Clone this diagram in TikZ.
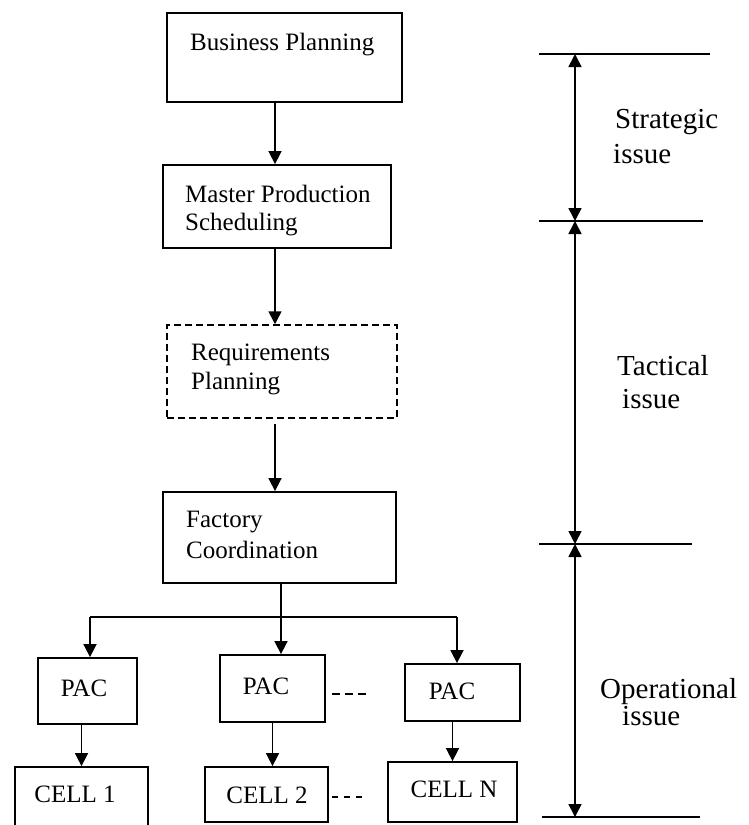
\documentclass[tikz,border=0pt]{standalone}
\usepackage{fontspec}
\setmainfont{Liberation Serif}
\usetikzlibrary{arrows.meta}
\begin{document}
\begin{tikzpicture}[x=1pt,y=-1pt,
  box/.style={draw, line width=1.8pt, rectangle, inner sep=0pt},
  lbl/.style={anchor=base west, inner sep=0pt, font=\fontsize{25}{28}\selectfont},
  clbl/.style={anchor=base, inner sep=0pt, font=\fontsize{25}{28}\selectfont},
  side/.style={anchor=base west, inner sep=0pt, font=\fontsize{29}{32}\selectfont},
  tip/.tip={Triangle[width=13pt,length=13pt]},
  arr/.style={line width=1.6pt, -tip},
  span/.style={line width=1.6pt, tip-tip},
  tick/.style={line width=2.2pt}]
\useasboundingbox (0,0) rectangle (749,825);

% planning hierarchy boxes
\node[box, line width=2.3pt, minimum width=235pt, minimum height=89pt] (bp) at (284.5,57.5) {};
\node[box, minimum width=228pt, minimum height=83pt] (mps) at (277,206.5) {};
\node[box, line width=1.5pt, dash pattern=on 7pt off 4pt, minimum width=230pt, minimum height=93pt] (req) at (282,371.5) {};
\node[box, minimum width=233pt, minimum height=91pt] (fac) at (279.5,537.5) {};

\node[lbl] (bpt) at (190,50) {Business Planning};
\node[lbl] (mpst1) at (185,202) {Master Production};
\node[lbl] (mpst2) at (185,230) {Scheduling};
\node[lbl] (reqt1) at (191,360) {Requirements};
\node[lbl] (reqt2) at (191,389) {Planning};
\node[lbl] (fact1) at (186,527) {Factory};
\node[lbl] (fact2) at (186,558) {Coordination};

% production activity control and cells
\node[box, minimum width=99pt, minimum height=66pt] (pac1) at (87.5,691) {};
\node[box, minimum width=105pt, minimum height=67pt] (pac2) at (272.5,688.5) {};
\node[box, minimum width=115pt, minimum height=57pt] (pac3) at (462.5,692.5) {};
\node[box, minimum width=133pt, minimum height=78pt] (cell1) at (81.5,806) {};
\node[box, minimum width=123pt, minimum height=55pt] (cell2) at (266.5,794.5) {};
\node[box, minimum width=129pt, minimum height=60pt] (celln) at (452.5,792) {};

\node[clbl] (pac1t) at (84,696) {PAC};
\node[clbl] (pac2t) at (266,694) {PAC};
\node[clbl] (pac3t) at (452,699) {PAC};
\node[clbl] (cell1t) at (75,802) {CELL 1};
\node[clbl] (cell2t) at (267,803) {CELL 2};
\node[clbl] (cellnt) at (454,797) {CELL N};

% vertical flow
\coordinate (spine) at (275,0);
\draw[arr] (bp.south -| spine) -- (mps.north -| spine);
\draw[arr] (mps.south -| spine) -- (req.north -| spine);
\draw[arr, shorten <=5pt] (req.south -| spine) -- (fac.north -| spine);

% distribution to the PAC units
\coordinate (busL) at (90,617);
\coordinate (busM) at (281,617);
\coordinate (busR) at (457,617);
\draw[line width=1.6pt] (busL) -- (busR);
\draw[arr] (fac.south -| busM) -- (pac2.north -| busM);
\draw[arr] (busL) -- (busL |- pac1.north);
\draw[arr] (busR) -- (busR |- pac3.north);

\draw[arr] (pac1.south -| cell1.north) -- (cell1.north);
\draw[arr] (pac2.south) -- (pac2.south |- cell2.north);
\draw[arr] (pac3.south -| celln.north) -- (celln.north);

% continuation dashes
\coordinate (dA1) at (332,694);
\coordinate (dA2) at (367,694);
\draw[line width=2.8pt, dash pattern=on 8pt off 5pt] (dA1) -- (dA2);
\coordinate (dB1) at (332,797);
\coordinate (dB2) at (367,797);
\draw[line width=1.4pt, dash pattern=on 6pt off 6pt] (dB1) -- (dB2);

% decision level scale
\coordinate (t0a) at (539,54);  \coordinate (t0b) at (710,54);
\coordinate (t1a) at (539,221); \coordinate (t1b) at (703,221);
\coordinate (t2a) at (539,544); \coordinate (t2b) at (692,544);
\coordinate (t3a) at (542,817); \coordinate (t3b) at (700,817);
\draw[tick] (t0a) -- (t0b);
\draw[tick] (t1a) -- (t1b);
\draw[tick] (t2a) -- (t2b);
\draw[tick] (t3a) -- (t3b);
\coordinate (v0) at (575,54);
\coordinate (v1) at (575,221);
\coordinate (v2) at (575,544);
\coordinate (v3) at (575,817);
\draw[span] (v0) -- (v1);
\draw[span] (v1) -- (v2);
\draw[span] (v2) -- (v3);

\node[side] (s1) at (615,128) {Strategic};
\node[side] (s2) at (613,163) {issue};
\node[side] (s3) at (617,375) {Tactical};
\node[side] (s4) at (622,408) {issue};
\node[side] (s5) at (600,698) {Operational};
\node[side] (s6) at (622,725) {issue};
\end{tikzpicture}
\end{document}
